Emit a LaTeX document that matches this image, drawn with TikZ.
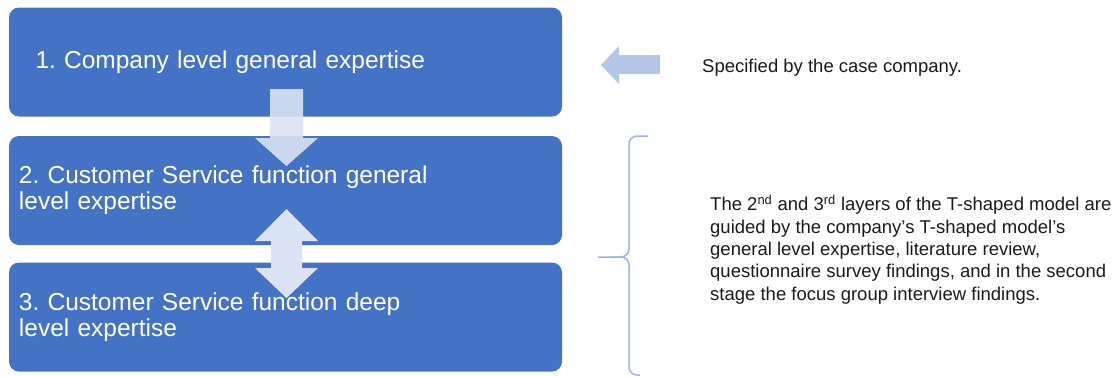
\documentclass[tikz,border=0pt]{standalone}
\usepackage{fontspec}
\setmainfont{Liberation Sans}
\frenchspacing
\definecolor{boxblue}{HTML}{4472C4}
\definecolor{arrowlight}{HTML}{DAE3F3}
\definecolor{arrowmid}{HTML}{B4C7E7}
\definecolor{bracecol}{HTML}{9DB6E0}
\definecolor{bodytext}{HTML}{1A1A1A}
\begin{document}
\begin{tikzpicture}[x=1pt,y=-1pt,
  levelbox/.style={fill=boxblue, rounded corners=10pt, minimum width=553pt,
    minimum height=109pt, text=white, align=left, inner ysep=0pt,
    font=\fontsize{24.5}{26}\selectfont},
  blockarrow/.style={fill=arrowlight},
  bracestyle/.style={draw=bracecol, line width=1.5pt, rounded corners=8pt},
  sidetext/.style={text=bodytext, inner sep=0pt, font=\fontsize{18.5}{22.3}\selectfont}]
\useasboundingbox (0,0) rectangle (1119,376);
% level boxes
\node[levelbox, inner xsep=26.5pt, text width=500pt] (b1) at (285.5,62) {1. Company level general expertise};
\node[levelbox, inner xsep=10pt, text width=533pt] (b2) at (285.5,190.5) {2. Customer Service function general\\level expertise};
\node[levelbox, inner xsep=10pt, text width=533pt] (b3) at (285.5,317) {3. Customer Service function deep\\level expertise};
% down arrow from box 1 to box 2
\fill[blockarrow, fill opacity=0.9] (270,89) -- (303,89) -- (303,138) -- (318,138) -- (286.5,166) -- (255,138) -- (270,138) -- cycle;
% double arrow between box 2 and box 3
\fill[blockarrow] (286.5,209) -- (318,241) -- (302,241) -- (302,268) -- (318,268) -- (286.5,298) -- (255,268) -- (271,268) -- (271,241) -- (255,241) -- cycle;
% left arrow
\fill[arrowmid] (601,65) -- (619,46) -- (619,55) -- (660,55) -- (660,74) -- (619,74) -- (619,84) -- cycle;
% brace
\draw[bracestyle] (648,136) -- (629,136) -- (629,257) -- (598,257);
\draw[bracestyle] (610,257) -- (629,257) -- (629,375) -- (640,375);
% side texts
\node[sidetext, anchor=base west] (spec) at (702,72.7) {Specified by the case company.};
\node[sidetext, anchor=west, align=left] (body) at (710,250.8) {The 2\textsuperscript{\smash{nd}} and 3\textsuperscript{\smash{rd}} layers of the T-shaped model are\\guided by the company’s T-shaped model’s\\general level expertise, literature review,\\questionnaire survey findings, and in the second\\stage the focus group interview findings.};
\end{tikzpicture}
\end{document}
